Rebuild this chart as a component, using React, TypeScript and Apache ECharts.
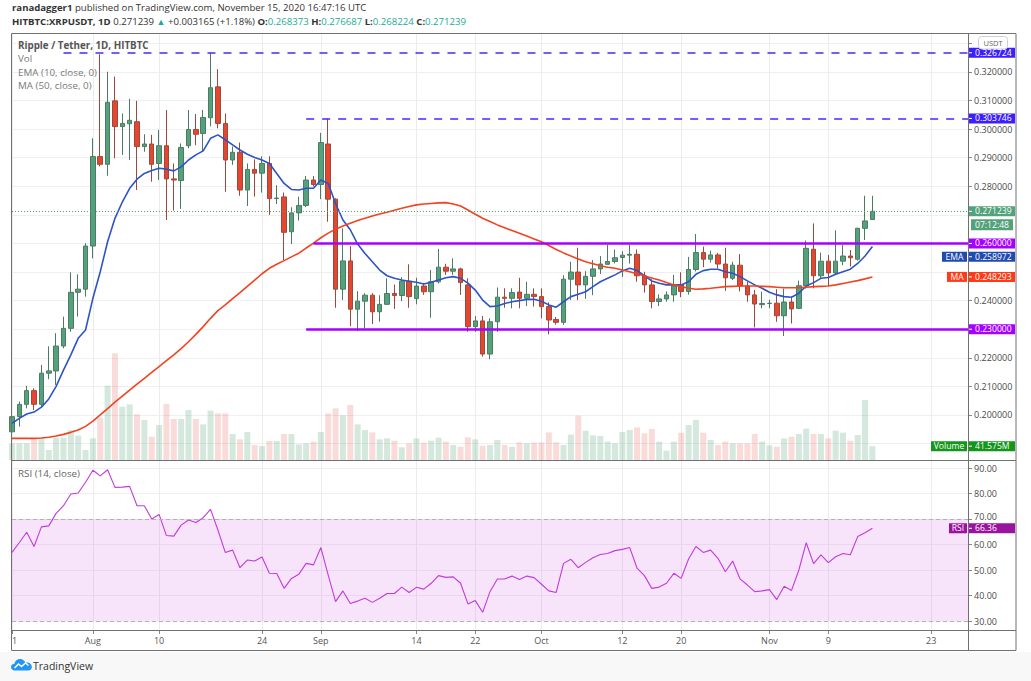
import React, { useEffect, useRef } from "react";
import * as echarts from "echarts";

// ---------- DATA ----------
const START = Date.UTC(2020, 6, 21);
const DAY_COUNT = 131;
const categories: string[] = Array.from({ length: DAY_COUNT }, (_, i) =>
  new Date(START + i * 86400000).toISOString().slice(0, 10)
);

const tickDates = [
  "2020-07-21", "2020-08-01", "2020-08-10", "2020-08-24", "2020-09-01", "2020-09-14",
  "2020-09-22", "2020-10-01", "2020-10-12", "2020-10-20", "2020-11-01", "2020-11-09", "2020-11-23",
];
const tickLabels = ["21", "Aug", "10", "24", "Sep", "14", "22", "Oct", "12", "20", "Nov", "9", "23"];

// [open, close, low, high]
const candles: number[][] = [
  [0.1941, 0.1994, 0.1930, 0.2003], [0.1994, 0.2037, 0.1959, 0.2047], [0.2037, 0.2085, 0.2023, 0.2102],
  [0.2085, 0.2037, 0.2017, 0.2093], [0.2037, 0.2146, 0.2029, 0.2175], [0.2146, 0.2154, 0.2125, 0.2240],
  [0.2154, 0.2241, 0.2105, 0.2286], [0.2241, 0.2303, 0.2233, 0.2344], [0.2303, 0.2429, 0.2291, 0.2499],
  [0.2429, 0.2440, 0.2344, 0.2492],
  [0.2440, 0.2591, 0.2414, 0.2601], [0.2591, 0.2904, 0.2548, 0.2968], [0.2904, 0.2877, 0.2870, 0.3262],
  [0.2877, 0.3094, 0.2837, 0.3201], [0.3099, 0.3009, 0.2898, 0.3184], [0.3009, 0.3020, 0.2910, 0.3055],
  [0.3019, 0.3031, 0.2892, 0.3106], [0.3026, 0.2939, 0.2787, 0.3099], [0.2939, 0.2948, 0.2921, 0.2982],
  [0.2948, 0.2877, 0.2816, 0.2980],
  [0.2880, 0.2942, 0.2822, 0.2997], [0.2942, 0.2826, 0.2682, 0.3067], [0.2826, 0.2822, 0.2715, 0.2880],
  [0.2820, 0.2936, 0.2721, 0.2950], [0.2942, 0.2999, 0.2933, 0.3067], [0.2999, 0.2982, 0.2944, 0.3053],
  [0.2985, 0.3041, 0.2921, 0.3067], [0.3040, 0.3145, 0.3010, 0.3267], [0.3148, 0.3020, 0.3003, 0.3210],
  [0.3020, 0.2892, 0.2781, 0.3055],
  [0.2892, 0.2919, 0.2875, 0.2939], [0.2919, 0.2787, 0.2767, 0.2953], [0.2787, 0.2859, 0.2731, 0.2880],
  [0.2859, 0.2846, 0.2764, 0.2894], [0.2846, 0.2880, 0.2778, 0.2905], [0.2880, 0.2757, 0.2700, 0.2905],
  [0.2757, 0.2759, 0.2738, 0.2804], [0.2763, 0.2639, 0.2542, 0.2778], [0.2641, 0.2707, 0.2598, 0.2727],
  [0.2707, 0.2733, 0.2680, 0.2764],
  [0.2733, 0.2822, 0.2727, 0.2836], [0.2822, 0.2806, 0.2800, 0.2836], [0.2806, 0.2953, 0.2755, 0.2987],
  [0.2948, 0.2755, 0.2676, 0.3037], [0.2755, 0.2440, 0.2375, 0.2758], [0.2440, 0.2539, 0.2402, 0.2653],
  [0.2539, 0.2370, 0.2311, 0.2591], [0.2370, 0.2398, 0.2293, 0.2433], [0.2398, 0.2419, 0.2303, 0.2426],
  [0.2419, 0.2361, 0.2318, 0.2426],
  [0.2361, 0.2387, 0.2326, 0.2419], [0.2387, 0.2425, 0.2385, 0.2478], [0.2425, 0.2418, 0.2371, 0.2456],
  [0.2418, 0.2468, 0.2398, 0.2482], [0.2468, 0.2414, 0.2375, 0.2527], [0.2407, 0.2451, 0.2387, 0.2480],
  [0.2451, 0.2431, 0.2420, 0.2462], [0.2431, 0.2466, 0.2340, 0.2507], [0.2466, 0.2517, 0.2460, 0.2581],
  [0.2517, 0.2503, 0.2490, 0.2529],
  [0.2503, 0.2511, 0.2490, 0.2548], [0.2511, 0.2463, 0.2420, 0.2515], [0.2455, 0.2309, 0.2291, 0.2478],
  [0.2309, 0.2329, 0.2291, 0.2346], [0.2329, 0.2213, 0.2204, 0.2346], [0.2213, 0.2326, 0.2195, 0.2338],
  [0.2326, 0.2412, 0.2291, 0.2446], [0.2412, 0.2408, 0.2375, 0.2443], [0.2408, 0.2428, 0.2373, 0.2443],
  [0.2430, 0.2408, 0.2373, 0.2480],
  [0.2408, 0.2422, 0.2381, 0.2466], [0.2422, 0.2414, 0.2379, 0.2443], [0.2414, 0.2379, 0.2338, 0.2443],
  [0.2379, 0.2332, 0.2282, 0.2394], [0.2334, 0.2324, 0.2316, 0.2343], [0.2324, 0.2475, 0.2315, 0.2489],
  [0.2475, 0.2500, 0.2402, 0.2536], [0.2500, 0.2455, 0.2402, 0.2585], [0.2455, 0.2485, 0.2406, 0.2503],
  [0.2485, 0.2511, 0.2419, 0.2542],
  [0.2511, 0.2528, 0.2493, 0.2556], [0.2527, 0.2537, 0.2525, 0.2595], [0.2537, 0.2550, 0.2530, 0.2579],
  [0.2551, 0.2559, 0.2483, 0.2573], [0.2559, 0.2562, 0.2530, 0.2595], [0.2562, 0.2487, 0.2466, 0.2579],
  [0.2487, 0.2455, 0.2428, 0.2501], [0.2455, 0.2397, 0.2373, 0.2475], [0.2397, 0.2406, 0.2381, 0.2422],
  [0.2406, 0.2420, 0.2396, 0.2432],
  [0.2420, 0.2452, 0.2396, 0.2490], [0.2455, 0.2432, 0.2412, 0.2499], [0.2432, 0.2509, 0.2421, 0.2553],
  [0.2509, 0.2568, 0.2502, 0.2633], [0.2568, 0.2545, 0.2517, 0.2589], [0.2545, 0.2560, 0.2533, 0.2575],
  [0.2560, 0.2528, 0.2513, 0.2567], [0.2528, 0.2480, 0.2434, 0.2585], [0.2478, 0.2524, 0.2472, 0.2536],
  [0.2524, 0.2451, 0.2432, 0.2563],
  [0.2451, 0.2420, 0.2396, 0.2466], [0.2420, 0.2388, 0.2306, 0.2437], [0.2386, 0.2390, 0.2373, 0.2431],
  [0.2390, 0.2391, 0.2373, 0.2403], [0.2391, 0.2347, 0.2326, 0.2440], [0.2347, 0.2395, 0.2276, 0.2442],
  [0.2395, 0.2371, 0.2320, 0.2414], [0.2373, 0.2452, 0.2371, 0.2470], [0.2452, 0.2583, 0.2442, 0.2610],
  [0.2580, 0.2487, 0.2443, 0.2670],
  [0.2487, 0.2538, 0.2476, 0.2568], [0.2538, 0.2497, 0.2451, 0.2560], [0.2497, 0.2538, 0.2490, 0.2646],
  [0.2538, 0.2556, 0.2524, 0.2594], [0.2556, 0.2550, 0.2519, 0.2577], [0.2545, 0.2653, 0.2540, 0.2655],
  [0.2653, 0.2679, 0.2612, 0.2767], [0.268373, 0.271239, 0.268224, 0.276687],
];

// volume, millions
const volumes: number[] = [
  50, 50, 50, 65, 65, 30, 67, 67, 90, 73,
  30, 65, 127, 223, 320, 160, 167, 137, 120, 70,
  105, 168, 123, 123, 150, 123, 107, 148, 140, 140,
  78, 62, 84, 45, 42, 57, 57, 78, 78, 47,
  50, 55, 84, 140, 155, 134, 165, 107, 90, 83,
  62, 65, 58, 38, 50, 65, 52, 58, 67, 55,
  45, 40, 68, 62, 43, 45, 60, 45, 40, 53,
  50, 52, 53, 83, 53, 45, 76, 133, 88, 74,
  72, 55, 50, 84, 90, 98, 80, 93, 55, 28,
  55, 82, 105, 120, 82, 60, 45, 55, 50, 50,
  50, 78, 55, 44, 40, 65, 70, 78, 94, 78,
  78, 65, 88, 82, 58, 75, 180, 41.575,
];

const ema10: number[] = [
  0.1971, 0.1988, 0.2003, 0.2010, 0.2027, 0.2056, 0.2100, 0.2157, 0.2210, 0.2268,
  0.2297, 0.2408, 0.2501, 0.2606, 0.2688, 0.2745, 0.2793, 0.2825, 0.2845, 0.2855,
  0.2863, 0.2860, 0.2854, 0.2868, 0.2892, 0.2910, 0.2924, 0.2968, 0.2980, 0.2963,
  0.2945, 0.2927, 0.2912, 0.2901, 0.2892, 0.2880, 0.2845, 0.2810, 0.2789, 0.2787,
  0.2793, 0.2793, 0.2822, 0.2810, 0.2740, 0.2682, 0.2648, 0.2598, 0.2565, 0.2536,
  0.2507, 0.2487, 0.2478, 0.2472, 0.2468, 0.2464, 0.2458, 0.2464, 0.2472, 0.2480,
  0.2484, 0.2478, 0.2461, 0.2437, 0.2402, 0.2379, 0.2381, 0.2390, 0.2396, 0.2400,
  0.2404, 0.2405, 0.2398, 0.2385, 0.2377, 0.2396, 0.2414, 0.2422, 0.2431, 0.2449,
  0.2466, 0.2478, 0.2490, 0.2504, 0.2513, 0.2505, 0.2487, 0.2469, 0.2461, 0.2455,
  0.2455, 0.2455, 0.2466, 0.2492, 0.2505, 0.2510, 0.2510, 0.2501, 0.2496, 0.2484,
  0.2469, 0.2455, 0.2443, 0.2429, 0.2420, 0.2414, 0.2412, 0.2426, 0.2451, 0.2463,
  0.2478, 0.2481, 0.2492, 0.2501, 0.2510, 0.2530, 0.2556, 0.258972,
];

const ma50: number[] = [
  0.1918, 0.1918, 0.1918, 0.1918, 0.1919, 0.1922, 0.1926, 0.1932, 0.1939, 0.1947,
  0.1960, 0.1978, 0.2000, 0.2022, 0.2045, 0.2066, 0.2087, 0.2108, 0.2128, 0.2149,
  0.2169, 0.2190, 0.2210, 0.2232, 0.2256, 0.2282, 0.2309, 0.2338, 0.2365, 0.2385,
  0.2407, 0.2428, 0.2450, 0.2472, 0.2494, 0.2513, 0.2527, 0.2540, 0.2553, 0.2566,
  0.2584, 0.2601, 0.2620, 0.2636, 0.2650, 0.2661, 0.2671, 0.2680, 0.2688, 0.2696,
  0.2703, 0.2709, 0.2716, 0.2723, 0.2729, 0.2735, 0.2738, 0.2740, 0.2742, 0.2743,
  0.2738, 0.2731, 0.2717, 0.2702, 0.2688, 0.2677, 0.2665, 0.2655, 0.2645, 0.2636,
  0.2626, 0.2616, 0.2606, 0.2593, 0.2579, 0.2567, 0.2556, 0.2546, 0.2536, 0.2529,
  0.2522, 0.2517, 0.2513, 0.2507, 0.2501, 0.2494, 0.2486, 0.2479, 0.2472, 0.2463,
  0.2455, 0.2449, 0.2443, 0.2440, 0.2441, 0.2443, 0.2446, 0.2449, 0.2450, 0.2451,
  0.2451, 0.2451, 0.2450, 0.2449, 0.2447, 0.2445, 0.2445, 0.2445, 0.2447, 0.2449,
  0.2450, 0.2451, 0.2455, 0.2460, 0.2465, 0.2470, 0.2476, 0.248293,
];

const rsi14: number[] = [
  56.9, 60.8, 64.8, 59.2, 66.9, 67.3, 72.2, 75.2, 79.8, 80.2,
  84.4, 89.1, 86.9, 89.3, 82.4, 82.5, 82.8, 75.2, 75.2, 70.0,
  71.8, 63.5, 63.3, 67.6, 69.6, 68.6, 70.5, 73.8, 65.7, 56.9,
  57.8, 50.9, 53.9, 53.5, 55.1, 48.7, 48.6, 42.8, 46.7, 48.3,
  52.6, 52.0, 58.8, 48.0, 37.6, 41.8, 36.9, 37.8, 38.9, 37.3,
  38.9, 40.8, 40.8, 43.3, 41.2, 43.2, 42.5, 44.8, 47.8, 47.1,
  47.3, 44.8, 36.7, 38.0, 33.4, 41.5, 46.5, 46.5, 47.6, 46.3,
  47.6, 47.0, 44.4, 41.8, 41.2, 52.6, 54.2, 50.9, 53.0, 54.8,
  56.1, 56.5, 57.6, 58.1, 58.8, 50.7, 47.8, 42.8, 43.3, 44.8,
  48.7, 46.7, 54.3, 59.2, 56.9, 57.8, 54.6, 49.3, 53.5, 46.5,
  44.1, 41.5, 41.8, 42.3, 38.4, 43.6, 42.0, 50.0, 60.7, 52.5,
  55.9, 52.9, 55.2, 56.5, 56.0, 63.1, 64.6, 66.36,
];

const dashedLevels = [0.326724, 0.303746];
const dashedStarts = ["2020-07-28", "2020-08-30"];
const rangeLevels = [0.26, 0.23];
const rangeStarts = ["2020-08-31", "2020-08-30"];
const lastPrice = 0.271239;
const countdown = "07:12:48";
const lastEma = 0.258972;
const lastMa = 0.248293;
const lastVolume = 41.575;
const lastRsi = 66.36;
const rsiBand = [30, 70];
// price labels hidden under the "USDT" tag and the "Volume" tag in the original
const coveredPriceLabels = [0.33, 0.19];

// ---------- STYLE ----------
const FONT = '"Open Sans", "Noto Sans", sans-serif';
const UP = "#53a27b";
const DOWN = "#e6452e";
const BLUE_LVL = "#4528ff";
const BLUE_TAG = "#3d1eff";
const PURPLE = "#a600ff";
const EMA_C = "#2c54c6";
const EMA_TAG = "#1f4bb0";
const MA_C = "#f3421f";
const MA_TAG = "#ff3a17";
const VOL_TAG = "#13961b";
const RSI_C = "#c13bdb";
const RSI_TAG = "#9a139f";
const AXIS_TXT = "#4a4a4a";
const LEFT = 12;
const RIGHT = 968;
const HDR = 9.6;
const BH = 10;
const TAG_GAP = 13.3;

const tickSet = new Set(tickDates.map((d) => categories.indexOf(d)));
const tickFn = (index: number) => tickSet.has(index);

const badgeValues = [...dashedLevels, ...rangeLevels, lastPrice, lastEma, lastMa];
const priceLabel = (v: number) => {
  if (coveredPriceLabels.some((c) => Math.abs(c - v) < 1e-6)) return "";
  if (badgeValues.some((b) => Math.abs(b - v) < 0.0031)) return "";
  return v.toFixed(6);
};
// the RSI label just above the RSI tag is nudged up so it stays readable
const rsiLabel = (v: number) => (Math.abs(v - rsiBand[1]) < 1e-6 ? `{up|${v.toFixed(2)}}` : v.toFixed(2));

function baseX(gridIndex: number) {
  return {
    type: "category",
    gridIndex,
    data: categories,
    boundaryGap: false,
    axisLine: { show: false },
    axisTick: { show: false },
    axisLabel: { show: false },
    splitLine: { show: false },
  };
}

export default function App() {
  const ref = useRef<HTMLDivElement>(null);

  useEffect(() => {
    if (!ref.current) return;
    const chart = echarts.init(ref.current, null, { renderer: "svg" });
    const lastCat = categories[DAY_COUNT - 1];

    const levelLines: any[] = [];
    dashedLevels.forEach((v, k) => {
      levelLines.push([
        { coord: [dashedStarts[k], v], lineStyle: { color: BLUE_LVL, width: 1.5, type: [8, 8] } },
        { coord: [lastCat, v] },
      ]);
    });
    rangeLevels.forEach((v, k) => {
      levelLines.push([
        { coord: [rangeStarts[k], v], lineStyle: { color: PURPLE, width: 2.5, type: "solid" } },
        { coord: [lastCat, v] },
      ]);
    });
    levelLines.push([
      { coord: [categories[0], lastPrice], lineStyle: { color: UP, width: 1, type: [1, 2] } },
      { coord: [lastCat, lastPrice] },
    ]);

    const option: any = {
      animation: false,
      backgroundColor: "#ffffff",
      textStyle: { fontFamily: FONT },
      grid: [
        { left: LEFT, width: RIGHT - LEFT, top: 43.42, height: 400.08, containLabel: false, outerBoundsMode: "none" },
        { left: LEFT, width: RIGHT - LEFT, top: 350, height: 110, containLabel: false, outerBoundsMode: "none" },
        { left: LEFT, width: RIGHT - LEFT, top: 468, height: 153, containLabel: false, outerBoundsMode: "none" },
        { left: LEFT, width: RIGHT - LEFT, top: 33, height: 597, containLabel: false, outerBoundsMode: "none" },
      ],
      xAxis: [
        baseX(0),
        baseX(1),
        baseX(2),
        {
          ...baseX(3),
          axisTick: { show: true, interval: tickFn, length: 4, lineStyle: { color: "#888" } },
          axisLabel: {
            show: true,
            interval: tickFn,
            margin: 6,
            fontSize: 9,
            color: "#555",
            fontFamily: FONT,
            formatter: (v: string) => {
              const k = tickDates.indexOf(v);
              return k >= 0 ? tickLabels[k] : "";
            },
          },
          splitLine: { show: true, interval: tickFn, lineStyle: { color: "#ececec", width: 1 } },
        },
      ],
      yAxis: [
        {
          type: "value",
          gridIndex: 0,
          position: "right",
          min: 0.19,
          max: 0.33,
          interval: 0.01,
          axisLine: { show: false },
          axisTick: { show: true, length: 4, lineStyle: { color: "#888" } },
          axisLabel: { margin: 6, fontSize: 9, color: AXIS_TXT, fontFamily: FONT, formatter: priceLabel },
          splitLine: { lineStyle: { color: "#efefef" } },
        },
        { type: "value", gridIndex: 1, min: 0, max: 330, show: false },
        {
          type: "value",
          gridIndex: 2,
          position: "right",
          min: 30,
          max: 90,
          interval: 10,
          axisLine: { show: false },
          axisTick: { show: true, length: 4, lineStyle: { color: "#888" } },
          axisLabel: {
            margin: 6,
            fontSize: 9,
            color: AXIS_TXT,
            fontFamily: FONT,
            formatter: rsiLabel,
            rich: { up: { fontSize: 9, color: AXIS_TXT, fontFamily: FONT, padding: [0, 0, 6, 0] } },
          },
          splitLine: { lineStyle: { color: "#efefef" } },
        },
        { type: "value", gridIndex: 3, min: 0, max: 1, show: false },
      ],
      series: [
        {
          type: "bar",
          name: "Volume",
          xAxisIndex: 1,
          yAxisIndex: 1,
          barWidth: 6,
          z: 1,
          data: volumes.map((v, i) => ({
            value: v,
            itemStyle: {
              color: candles[i][1] >= candles[i][0] ? "rgba(83,162,123,0.25)" : "rgba(224,80,70,0.2)",
            },
          })),
        },
        {
          type: "candlestick",
          name: "XRPUSDT",
          xAxisIndex: 0,
          yAxisIndex: 0,
          barWidth: 5,
          z: 3,
          itemStyle: { color: UP, color0: DOWN, borderColor: "#4d7a64", borderColor0: "#9a4a3c", borderWidth: 1 },
          data: candles,
          markLine: { silent: true, symbol: ["none", "none"], label: { show: false }, data: levelLines },
        },
        {
          type: "line",
          name: "EMA",
          xAxisIndex: 0,
          yAxisIndex: 0,
          showSymbol: false,
          z: 4,
          lineStyle: { color: EMA_C, width: 1.6 },
          data: ema10,
        },
        {
          type: "line",
          name: "MA",
          xAxisIndex: 0,
          yAxisIndex: 0,
          showSymbol: false,
          z: 4,
          lineStyle: { color: MA_C, width: 1.6 },
          data: ma50,
        },
        {
          type: "line",
          name: "RSI",
          xAxisIndex: 2,
          yAxisIndex: 2,
          showSymbol: false,
          z: 4,
          lineStyle: { color: RSI_C, width: 1.1 },
          data: rsi14,
          markArea: {
            silent: true,
            itemStyle: { color: "rgba(214,120,236,0.2)" },
            data: [[{ yAxis: rsiBand[0] }, { yAxis: rsiBand[1] }]],
          },
          markLine: {
            silent: true,
            symbol: ["none", "none"],
            label: { show: false },
            lineStyle: { color: "#b9aebc", type: [4, 3], width: 1 },
            data: [{ yAxis: rsiBand[1] }, { yAxis: rsiBand[0] }],
          },
        },
      ],
    };
    chart.setOption(option);

    const py = (axis: number, v: number) => chart.convertToPixel({ yAxisIndex: axis } as any, v) as number;

    const txt = (x: number, y: number, text: string, extra: any = {}) => ({
      type: "text",
      x,
      y,
      z: 120,
      style: {
        text,
        fill: "#555",
        fontSize: 10,
        fontFamily: FONT,
        textAlign: "left",
        align: "left",
        textVerticalAlign: "middle",
        verticalAlign: "middle",
        ...extra,
      },
    });

    const valueBadge = (y: number, text: string, bg: string) => ({
      type: "group",
      z: 110,
      children: [
        { type: "rect", z: 110, shape: { x: RIGHT, y: y - BH / 2, width: 47, height: BH }, style: { fill: bg } },
        { type: "line", z: 111, shape: { x1: RIGHT, y1: y, x2: RIGHT + 4, y2: y }, style: { stroke: "#fff", lineWidth: 1 } },
        txt(RIGHT + 7, y, text, { fill: "#fff", fontSize: 8.6 }),
      ],
    });
    const nameBadge = (y: number, text: string, bg: string, w: number) => ({
      type: "group",
      z: 110,
      children: [
        { type: "rect", z: 110, shape: { x: RIGHT - w - 1, y: y - BH / 2, width: w, height: BH }, style: { fill: bg } },
        txt(RIGHT - 1 - w / 2, y, text, { fill: "#fff", fontSize: 8.6, textAlign: "center", align: "center" }),
      ],
    });

    // price-scale tags, pushed apart like the original so they never overlap
    type Tag = { value: number; text: string; color: string; name?: string; nameW?: number; slots: number; y: number };
    const tags: Tag[] = [
      { value: dashedLevels[0], text: dashedLevels[0].toFixed(6), color: BLUE_TAG, slots: 1, y: 0 },
      { value: dashedLevels[1], text: dashedLevels[1].toFixed(6), color: BLUE_TAG, slots: 1, y: 0 },
      { value: lastPrice, text: lastPrice.toFixed(6), color: UP, slots: 2, y: 0 },
      { value: rangeLevels[0], text: rangeLevels[0].toFixed(6), color: PURPLE, slots: 1, y: 0 },
      { value: lastEma, text: lastEma.toFixed(6), color: EMA_TAG, name: "EMA", nameW: 25, slots: 1, y: 0 },
      { value: lastMa, text: lastMa.toFixed(6), color: MA_TAG, name: "MA", nameW: 20, slots: 1, y: 0 },
      { value: rangeLevels[1], text: rangeLevels[1].toFixed(6), color: PURPLE, slots: 1, y: 0 },
    ];
    tags.forEach((t) => (t.y = py(0, t.value)));
    tags.sort((a, b) => a.y - b.y);
    for (let i = 1; i < tags.length; i++) {
      const minY = tags[i - 1].y + TAG_GAP * tags[i - 1].slots;
      if (tags[i].y < minY) tags[i].y = minY;
    }

    const tagGraphics: any[] = [];
    tags.forEach((t) => {
      if (t.name) tagGraphics.push(nameBadge(t.y, t.name, t.color, t.nameW || 20));
      tagGraphics.push(valueBadge(t.y, t.text, t.color));
      if (t.slots === 2) {
        tagGraphics.push({
          type: "group",
          z: 110,
          children: [
            { type: "rect", z: 110, shape: { x: 971, y: t.y + 8, width: 42, height: 11 }, style: { fill: UP } },
            txt(992, t.y + 13.5, countdown, { fill: "#fff", fontSize: 8.6, textAlign: "center", align: "center" }),
          ],
        });
      }
    });

    const yVol = py(1, lastVolume);
    const yRsi = py(2, lastRsi);

    echarts.graphic.registerShape(
      "tvcloud",
      echarts.graphic.extendPath(
        "M4 12 C1.5 12 0 10.3 0 8.4 C0 6.4 1.6 5 3.6 5 C4.2 2 6.6 0 9.6 0 C12.4 0 14.5 1.8 15.1 4.1 C15.6 3.9 16.1 3.8 16.7 3.8 C19.6 3.8 22 6 22 8.6 C22 10.6 20.4 12 18.2 12 Z",
        {}
      ) as any
    );

    const graphics: any[] = [
      { type: "rect", z: 1, shape: { x: 0, y: 652, width: 1031, height: 29 }, style: { fill: "#f8f8f8" } },
      { type: "rect", z: 115, shape: { x: 0, y: 631, width: 11, height: 19 }, style: { fill: "#ffffff" } },
      { type: "rect", z: 116, shape: { x: 11.5, y: 33.5, width: 1004.5, height: 617 }, style: { fill: "none", stroke: "#707070", lineWidth: 1 } },
      { type: "line", z: 116, shape: { x1: 968.5, y1: 33.5, x2: 968.5, y2: 650.5 }, style: { stroke: "#707070", lineWidth: 1 } },
      { type: "line", z: 116, shape: { x1: 11.5, y1: 460.5, x2: 1016, y2: 460.5 }, style: { stroke: "#707070", lineWidth: 1 } },
      { type: "line", z: 116, shape: { x1: 11.5, y1: 630.5, x2: 1016, y2: 630.5 }, style: { stroke: "#707070", lineWidth: 1 } },
      txt(12, 7, "{b|ranadagger1} published on TradingView.com, November 15, 2020 16:47:16 UTC", {
        fill: "#333",
        fontSize: HDR,
        rich: { b: { fontWeight: "bold", fill: "#333", fontSize: HDR, fontFamily: FONT } },
      }),
      txt(
        12,
        21,
        "{b|HITBTC:XRPUSDT, 1D} 0.271239 {g|▲} +0.003165 (+1.18%) {b|O:}{t|0.268373} {b|H:}{t|0.276687} {b|L:}{t|0.268224} {b|C:}{t|0.271239}",
        {
          fill: "#333",
          fontSize: HDR,
          rich: {
            b: { fontWeight: "bold", fill: "#333", fontSize: HDR, fontFamily: FONT },
            g: { fill: "#26a69a", fontSize: 9, fontFamily: FONT },
            t: { fill: "#22ab94", fontSize: HDR, fontFamily: FONT },
          },
        }
      ),
      txt(18, 45, "Ripple / Tether, 1D, HITBTC", { fill: "#555", fontWeight: "bold", fontSize: 9.8 }),
      txt(18, 58, "Vol", { fill: "#7a7a7a", fontSize: 9.8 }),
      txt(18, 72, "EMA (10, close, 0)", { fill: "#7a7a7a", fontSize: 9.8 }),
      txt(18, 85, "MA (50, close, 0)", { fill: "#7a7a7a", fontSize: 9.8 }),
      txt(18, 473, "RSI (14, close)", { fill: "#666", fontSize: 9.8 }),
      { type: "rect", z: 112, shape: { x: 978.5, y: 36.5, width: 29, height: 12.5, r: 3 }, style: { fill: "#fff", stroke: "#cfcfcf", lineWidth: 1 } },
      txt(993, 42.8, "USDT", { fill: "#666", fontSize: 7.5, textAlign: "center", align: "center" }),
      ...tagGraphics,
      nameBadge(yVol, "Volume", VOL_TAG, 36),
      valueBadge(yVol, lastVolume.toFixed(3) + "M", VOL_TAG),
      nameBadge(yRsi, "RSI", RSI_TAG, 18),
      valueBadge(yRsi, lastRsi.toFixed(2), RSI_TAG),
      { type: "tvcloud", z: 120, x: 11, y: 659, scaleX: 0.95, scaleY: 0.95, style: { fill: "#2196f3" } },
      {
        type: "polyline",
        z: 121,
        shape: { points: [[14.5, 668], [18.5, 664], [21.5, 666.5], [25.5, 663], [28.5, 665.5]] },
        style: { stroke: "#fff", lineWidth: 1.4, fill: "none" },
      },
      txt(33, 665.5, "TradingView", { fill: "#333", fontSize: 10.5 }),
    ];

    chart.setOption({ graphic: graphics });

    return () => chart.dispose();
  }, []);

  return (
    <div
      ref={ref}
      style={{ position: "absolute", left: 0, top: 0, width: 1031, height: 681, background: "#fff" }}
    />
  );
}
